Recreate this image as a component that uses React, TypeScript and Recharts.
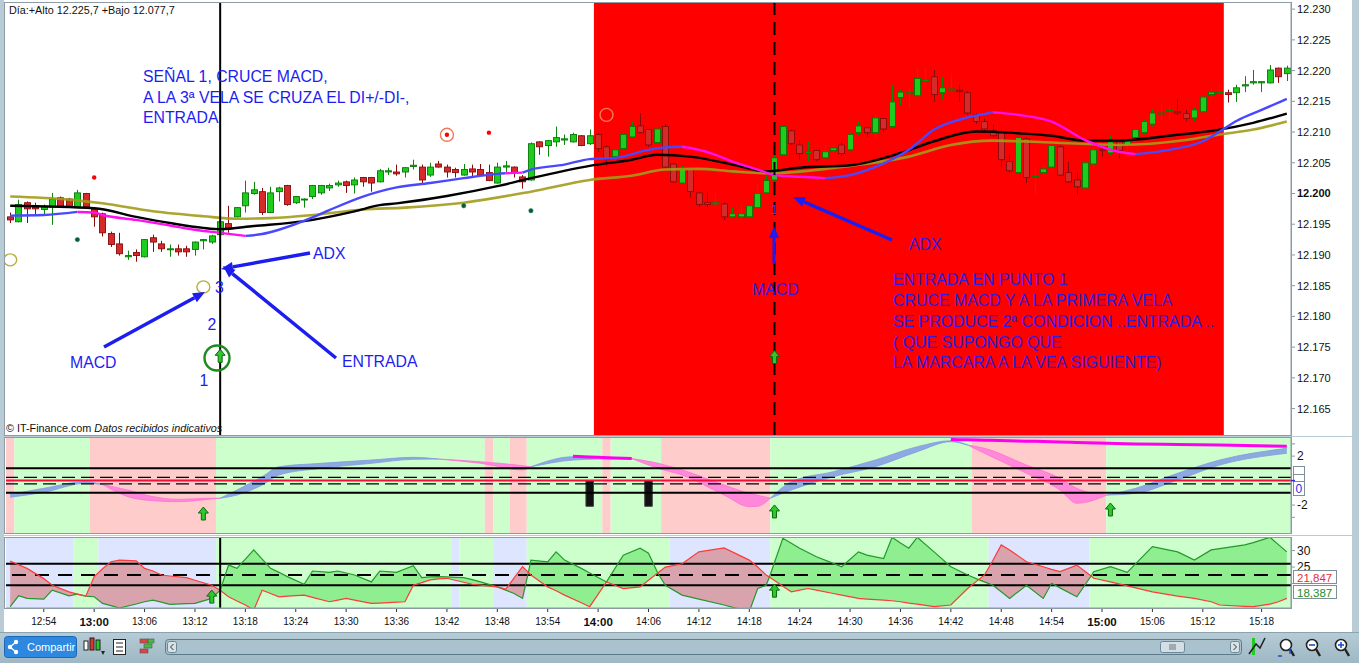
import React from 'react';
import {
  ComposedChart, Bar, Line, Area, XAxis, YAxis,
  ReferenceArea, ReferenceLine, ReferenceDot,
} from 'recharts';

const FONT = '"Liberation Sans", Arial, Helvetica, sans-serif';
const START = 12 * 60 + 50; // first candle 12:50
const hhmm = (i: number) => {
  const m = START + i;
  return `${Math.floor(m / 60)}:${String(m % 60).padStart(2, '0')}`;
};

// one-minute candles: [open, high, low, close]
const candles: [number, number, number, number][] = [
  [12196.2, 12196.9, 12195.2, 12195.7], [12195.4, 12199.0, 12195.3, 12198.2], [12198.5, 12198.7, 12195.2, 12197.5],
  [12197.8, 12198.5, 12196.5, 12197.5], [12197.4, 12198.2, 12196.5, 12197.8], [12197.8, 12200.1, 12194.9, 12199.1],
  [12199.3, 12199.5, 12197.7, 12197.8], [12199.1, 12199.3, 12197.7, 12197.8], [12197.8, 12200.6, 12197.7, 12200.1],
  [12200.0, 12200.1, 12197.7, 12197.8], [12197.5, 12197.8, 12194.6, 12196.2], [12196.7, 12196.9, 12193.0, 12193.6],
  [12193.5, 12193.8, 12191.3, 12191.7], [12191.8, 12193.6, 12189.9, 12190.2], [12189.7, 12190.7, 12189.2, 12189.9],
  [12190.4, 12190.9, 12188.9, 12189.9], [12189.7, 12192.6, 12189.6, 12192.5], [12192.8, 12193.3, 12190.5, 12192.1],
  [12191.8, 12192.3, 12190.5, 12191.0], [12190.9, 12191.7, 12189.7, 12191.0], [12191.0, 12191.7, 12189.9, 12190.5],
  [12191.0, 12191.5, 12189.7, 12190.5], [12190.9, 12192.2, 12189.9, 12192.1], [12192.3, 12192.6, 12190.9, 12192.5],
  [12192.1, 12193.3, 12191.8, 12193.1], [12193.3, 12195.7, 12193.0, 12195.4], [12195.1, 12198.0, 12193.6, 12194.4],
  [12196.2, 12197.8, 12196.1, 12197.7], [12198.0, 12202.1, 12196.9, 12200.1], [12200.0, 12201.9, 12199.8, 12200.6],
  [12200.3, 12200.9, 12196.5, 12196.9], [12196.9, 12201.1, 12196.8, 12200.1], [12200.3, 12201.1, 12198.7, 12200.9],
  [12201.3, 12201.4, 12198.0, 12198.2], [12198.5, 12199.6, 12198.3, 12199.5], [12199.0, 12199.2, 12197.7, 12199.1],
  [12199.5, 12201.4, 12199.1, 12201.3], [12200.1, 12201.4, 12199.8, 12201.3], [12200.9, 12201.6, 12200.4, 12201.3],
  [12201.4, 12202.1, 12201.1, 12201.7], [12201.9, 12202.1, 12200.1, 12201.3], [12201.4, 12202.6, 12200.0, 12202.2],
  [12202.6, 12202.7, 12201.1, 12201.9], [12202.6, 12202.7, 12200.3, 12201.7], [12201.9, 12204.0, 12201.8, 12203.7],
  [12203.5, 12204.2, 12203.0, 12203.7], [12203.5, 12204.7, 12202.9, 12203.2], [12203.5, 12204.3, 12202.6, 12204.2],
  [12204.4, 12205.5, 12203.9, 12204.6], [12204.3, 12204.7, 12201.7, 12202.2], [12203.0, 12205.0, 12202.7, 12204.3],
  [12204.8, 12205.3, 12204.2, 12204.3], [12204.3, 12204.7, 12202.6, 12203.5], [12203.9, 12204.2, 12202.6, 12203.4],
  [12203.0, 12204.8, 12202.9, 12203.9], [12204.0, 12204.7, 12202.7, 12203.5], [12203.9, 12204.8, 12202.9, 12203.0],
  [12203.4, 12204.7, 12202.0, 12202.1], [12201.7, 12205.0, 12201.6, 12204.3], [12204.3, 12205.3, 12203.5, 12204.5],
  [12204.3, 12204.4, 12202.6, 12203.4], [12202.7, 12203.0, 12200.8, 12201.9], [12202.2, 12208.3, 12202.1, 12208.1],
  [12208.4, 12208.5, 12206.3, 12207.6], [12207.8, 12208.7, 12206.0, 12208.6], [12208.4, 12210.9, 12207.6, 12209.1],
  [12208.7, 12209.6, 12207.9, 12208.9], [12208.4, 12209.9, 12208.3, 12209.6], [12209.4, 12209.5, 12207.7, 12207.8],
  [12208.1, 12210.4, 12207.9, 12209.4], [12209.6, 12209.9, 12206.8, 12207.3], [12207.6, 12207.9, 12204.5, 12205.5],
  [12206.0, 12207.4, 12205.2, 12207.1], [12207.3, 12209.9, 12207.1, 12209.6], [12209.2, 12211.7, 12209.1, 12210.9],
  [12211.0, 12213.1, 12209.8, 12209.9], [12210.4, 12210.5, 12207.6, 12207.9], [12208.3, 12210.7, 12208.1, 12210.5],
  [12210.9, 12211.3, 12204.2, 12204.3], [12204.8, 12205.0, 12201.7, 12201.9], [12201.7, 12204.5, 12201.6, 12203.9],
  [12203.9, 12204.0, 12199.3, 12200.3], [12200.1, 12200.3, 12197.8, 12198.2], [12198.5, 12200.3, 12197.8, 12198.2],
  [12198.3, 12200.1, 12197.8, 12198.5], [12198.3, 12198.5, 12195.7, 12196.2], [12196.2, 12197.7, 12196.1, 12196.7],
  [12196.2, 12198.0, 12195.7, 12196.7], [12196.2, 12198.2, 12196.1, 12198.0], [12197.7, 12201.4, 12197.6, 12200.0],
  [12200.1, 12202.9, 12200.0, 12202.1], [12202.2, 12206.5, 12202.1, 12205.8], [12206.3, 12211.0, 12206.1, 12210.9],
  [12210.2, 12210.4, 12207.9, 12208.1], [12207.9, 12208.7, 12205.5, 12206.5], [12206.6, 12208.4, 12205.3, 12206.8],
  [12207.0, 12207.1, 12205.3, 12205.5], [12205.8, 12207.9, 12205.7, 12206.8], [12207.0, 12207.9, 12206.6, 12207.4],
  [12207.9, 12208.4, 12206.1, 12206.5], [12207.1, 12209.9, 12207.0, 12209.6], [12209.9, 12211.7, 12209.4, 12211.0],
  [12210.7, 12210.9, 12209.2, 12209.9], [12209.9, 12212.8, 12208.9, 12212.3], [12212.2, 12212.3, 12209.9, 12210.5],
  [12210.9, 12217.7, 12210.7, 12214.9], [12215.6, 12216.9, 12214.4, 12216.5], [12216.3, 12217.2, 12213.8, 12216.4],
  [12215.9, 12220.4, 12215.7, 12218.7], [12218.3, 12220.4, 12217.4, 12218.5], [12219.0, 12220.1, 12214.9, 12216.1],
  [12216.4, 12219.0, 12215.2, 12217.2], [12216.9, 12219.5, 12216.5, 12217.0], [12216.8, 12217.7, 12214.9, 12216.6],
  [12216.4, 12216.7, 12212.8, 12213.1], [12212.8, 12213.1, 12211.3, 12211.7], [12211.7, 12212.2, 12210.2, 12210.5],
  [12210.2, 12211.2, 12209.1, 12209.4], [12210.0, 12210.4, 12204.3, 12205.5], [12205.2, 12206.3, 12203.4, 12203.7],
  [12203.4, 12209.2, 12203.2, 12209.1], [12208.9, 12209.1, 12201.7, 12202.6], [12202.8, 12204.3, 12199.8, 12202.9],
  [12203.4, 12204.5, 12203.0, 12204.0], [12204.3, 12207.9, 12203.9, 12207.8], [12207.6, 12207.8, 12202.9, 12203.0],
  [12203.4, 12205.2, 12201.7, 12201.9], [12202.2, 12203.4, 12199.8, 12201.1], [12200.9, 12205.2, 12200.8, 12205.0],
  [12204.8, 12207.4, 12204.3, 12207.1], [12207.2, 12208.3, 12206.0, 12207.0], [12206.6, 12209.4, 12206.1, 12208.4],
  [12208.4, 12208.7, 12205.7, 12207.0], [12207.8, 12209.1, 12206.8, 12208.7], [12209.1, 12210.7, 12208.7, 12210.4],
  [12209.9, 12212.0, 12209.6, 12211.7], [12211.3, 12213.8, 12210.9, 12213.1], [12213.0, 12214.4, 12212.0, 12213.1],
  [12213.5, 12214.4, 12212.2, 12213.6], [12213.3, 12215.4, 12212.8, 12213.1], [12213.0, 12213.6, 12211.7, 12212.2],
  [12212.3, 12214.1, 12211.7, 12213.6], [12213.3, 12216.1, 12213.1, 12215.7], [12216.1, 12217.2, 12215.2, 12216.5],
  [12216.4, 12217.7, 12216.1, 12216.6], [12216.4, 12216.9, 12214.8, 12216.1], [12216.4, 12217.7, 12214.9, 12217.2],
  [12217.5, 12219.1, 12216.5, 12217.7], [12218.0, 12220.1, 12217.7, 12218.2], [12218.0, 12218.3, 12216.5, 12218.2],
  [12218.0, 12220.9, 12217.9, 12220.1], [12220.4, 12220.5, 12218.0, 12219.0], [12219.5, 12220.8, 12218.3, 12220.4],
];

// fast average: rising stretches (blue) and falling stretches (magenta), [index, value]
const fastUp: [number, number][][] = [
  [[0, 12196.4], [4, 12196.5], [8, 12197.0]],
  [[28, 12193.1], [30, 12193.4], [32, 12194.1], [36, 12196.1], [38, 12197.3], [42, 12199.5], [46, 12201.0], [50, 12201.7], [54, 12202.5], [58, 12203.2], [59, 12203.3]],
  [[61, 12203.4], [62, 12203.9], [66, 12204.7], [69, 12205.6], [72, 12205.8], [76, 12207.1], [78, 12207.5], [80, 12207.6]],
  [[97, 12202.5], [100, 12203.0], [104, 12204.9], [107, 12207.1], [110, 12210.4], [113, 12212.0], [117, 12213.2]],
  [[134, 12206.4], [138, 12207.1], [142, 12208.5], [144, 12210.1], [146, 12211.8], [149, 12213.6], [152, 12215.4]],
];
const fastDown: [number, number][][] = [
  [[8, 12197.0], [10, 12196.9], [11, 12196.5], [15, 12195.7], [19, 12194.8], [22, 12194.1], [25, 12193.6], [28, 12193.1]],
  [[59, 12203.3], [61, 12203.4]],
  [[80, 12207.6], [81, 12207.4], [84, 12206.3], [86, 12205.2], [89, 12203.9], [91, 12203.0], [93, 12202.8], [97, 12202.5]],
  [[117, 12213.2], [120, 12212.8], [124, 12211.7], [128, 12208.7], [132, 12206.8], [134, 12206.4]],
];
const midAvg: [number, number][] = [
  [0, 12198.0], [10, 12197.6], [15, 12196.2], [19, 12195.2], [23, 12194.4], [25, 12194.2], [29, 12194.7], [35, 12195.5],
  [41, 12197.1], [44, 12198.1], [46, 12198.4], [52, 12199.6], [58, 12201.2], [62, 12202.5], [69, 12204.5], [74, 12205.5],
  [77, 12206.3], [81, 12206.0], [86, 12204.7], [90, 12203.6], [94, 12204.2], [100, 12204.6], [106, 12206.6], [110, 12208.5],
  [115, 12210.1], [120, 12209.8], [124, 12209.4], [128, 12208.6], [132, 12208.6], [138, 12209.4], [144, 12210.4], [148, 12211.5],
  [152, 12213.0],
];
const slowAvg: [number, number][] = [
  [0, 12199.5], [7, 12199.0], [11, 12198.4], [17, 12197.1], [23, 12196.3], [27, 12195.9], [31, 12196.0], [36, 12196.5],
  [42, 12197.4], [47, 12197.7], [54, 12198.5], [62, 12200.3], [69, 12202.2], [74, 12202.9], [78, 12203.9], [82, 12204.0],
  [86, 12203.6], [90, 12203.3], [100, 12204.5], [107, 12206.0], [112, 12207.9], [117, 12208.6], [124, 12208.3], [132, 12207.9],
  [140, 12208.7], [144, 12209.6], [148, 12210.4], [152, 12211.7],
];

const priceTicks = [12165, 12170, 12175, 12180, 12185, 12190, 12195, 12200, 12205, 12210, 12215, 12220, 12225, 12230];

const redDots: [number, number][] = [[10, 12202.6], [52, 12209.55], [57, 12209.9]];
const darkDots: [number, number][] = [[8, 12192.5], [54, 12198.0], [62, 12197.2]];
const oliveRings: [number, number][] = [[0, 12189.2], [23, 12184.8]];
const orangeRings: [number, number][] = [[52, 12209.55], [71, 12212.8]];
const buyMain: [number, number][] = [[25, 12173.5], [91, 12173.3]];

// MACD panel: [index, macd, signal]
const macdPts: [number, number, number][] = [
  [0, -1.12, -1.36], [4, -0.63, -0.96], [9, -0.09, -0.22], [11, -0.32, -0.32], [14, -1.31, -0.77], [17, -1.64, -1.31],
  [20, -1.72, -1.53], [24, -1.5, -1.44], [25, -1.44, -1.44], [27, -0.77, -1.18], [30, 0.32, -0.36], [32, 1.13, 0.46],
  [37, 1.41, 1.0], [43, 1.68, 1.41], [48, 1.9, 1.74], [51, 1.76, 1.76], [56, 1.41, 1.54], [61, 0.87, 1.22],
  [62, 1.13, 1.13], [67, 1.95, 1.68], [70, 1.87, 1.76], [74, 1.8, 1.8], [77, 1.03, 1.44], [80, 0.46, 0.87],
  [85, -1.18, -0.36], [88, -2.13, -1.04], [89, -2.1, -1.2], [90.5, -1.44, -1.44], [93, -0.09, -0.77], [98, 0.73, 0.32],
  [103, 1.68, 1.13], [108, 2.77, 2.36], [112, 3.26, 3.18], [114, 2.9, 2.9], [116, 2.23, 2.64], [121, 0.6, 1.27],
  [125, -0.77, 0.19], [127, -1.85, -0.63], [130.6, -1.18, -1.18], [134, -0.63, -1.04], [139, 0.6, 0.05], [144, 1.68, 1.27],
  [152, 2.64, 2.23],
];
const macdMagenta: [number, number][][] = [
  [[67, 1.98], [70, 1.9], [74, 1.8]],
  [[112, 3.36], [114, 3.33], [116, 3.3], [121, 3.22], [125, 3.16], [127, 3.12], [130.6, 3.05], [134, 3.0], [139, 2.95], [144, 2.9], [152, 2.8]],
];
// [first index, last index, 1 = rising / 0 = falling]
const macdState: [number, number, number][] = [
  [0, 0, 0], [1, 9, 1], [10, 24, 0], [25, 56, 1], [57, 57, 0], [58, 59, 1], [60, 61, 0],
  [62, 70, 1], [71, 71, 0], [72, 77, 1], [78, 90, 0], [91, 114, 1], [115, 130, 0], [131, 152, 1],
];
const macdBuy: [number, number][] = [[23, -2.73], [91, -2.56], [131, -2.4]];
const macdBlocks: number[] = [69, 76];

// DI panel: [index, DI+, DI-]
const diPts: [number, number, number][] = [
  [0, 13.0, 26.8], [1, 16.3, 25.7], [2, 15.5, 24.6], [4, 15.3, 21.5], [5, 18.0, 19.5], [7, 16.3, 17.5], [8, 16.8, 16.8],
  [9, 16.2, 16.2], [10, 16.0, 22.1], [11, 14.0, 24.5], [12, 13.3, 26.6], [13, 12.6, 27.1], [15, 13.8, 26.9], [16, 14.5, 24.6],
  [17, 15.0, 23.8], [18, 14.4, 22.6], [19, 13.7, 22.3], [21, 13.9, 21.8], [22, 14.0, 21.0], [24, 15.5, 19.5], [25, 18.0, 18.0],
  [26, 25.6, 16.0], [27, 24.6, 14.7], [28, 27.4, 13.5], [29, 30.2, 12.0], [30, 27.4, 18.0], [31, 24.6, 17.0], [32, 23.4, 16.0],
  [33, 22.1, 16.2], [35, 19.8, 16.5], [36, 23.8, 15.8], [38, 23.4, 14.5], [39, 23.8, 15.0], [40, 23.2, 15.5], [41, 22.6, 15.0],
  [43, 20.5, 14.0], [44, 23.8, 14.1], [46, 23.4, 14.4], [47, 24.4, 14.5], [48, 25.4, 19.5], [49, 21.8, 20.3], [50, 22.0, 21.1],
  [51, 22.1, 21.4], [52, 22.0, 21.6], [53, 21.9, 21.0], [54, 21.8, 20.4], [55, 21.2, 19.8], [56, 20.5, 19.5], [58, 19.0, 19.0],
  [59, 18.0, 18.3], [60, 17.0, 21.7], [61, 15.5, 25.1], [61.7, 23.4, 23.4], [62, 27.1, 22.6], [64, 26.6, 19.0], [65, 29.6, 17.8],
  [66, 27.1, 16.5], [68, 24.6, 14.2], [69, 23.2, 13.0], [71, 20.5, 20.5], [73, 28.6, 18.5], [75, 30.7, 19.0], [76, 29.2, 21.0],
  [77.1, 23.2, 23.2], [78, 19.5, 25.0], [80, 16.5, 26.0], [82, 15.3, 29.6], [85, 13.5, 30.8], [88, 11.5, 27.1], [89, 18.5, 25.0],
  [90, 19.5, 22.6], [90.4, 22.0, 22.0], [92, 33.7, 19.2], [93, 32.2, 17.5], [94, 30.7, 18.0], [95, 29.4, 18.5], [96, 28.1, 18.0],
  [98, 26.1, 17.0], [99, 25.1, 16.5], [101, 29.6, 15.5], [102, 28.6, 15.3], [104, 27.6, 15.0], [105, 34.0, 14.8], [106, 32.3, 14.5],
  [107, 30.7, 14.1], [108, 34.0, 13.8], [110, 29.6, 13.0], [112, 25.1, 13.5], [114, 22.6, 18.5], [115.3, 21.2, 21.2],
  [116, 20.5, 22.6], [117, 19.5, 27.0], [118, 17.5, 31.7], [119, 15.5, 30.2], [121, 19.5, 26.6], [123, 15.5, 25.1],
  [124, 20.1, 24.3], [125, 18.7, 23.6], [127, 16.0, 25.6], [128.7, 22.3, 22.3], [129, 23.6, 21.6], [131, 25.1, 20.5],
  [133, 23.4, 19.3], [136, 31.2, 17.5], [139, 29.6, 16.2], [141, 27.1, 15.5], [143, 30.2, 14.5], [144, 30.6, 13.5],
  [147, 31.7, 13.1], [148, 32.4, 13.0], [150, 34.0, 13.8], [151, 31.8, 14.5], [152, 29.6, 15.5],
];
// [first index, last index, 1 = trend / 0 = no trend]
const diState: [number, number, number][] = [
  [0, 7, 0], [8, 10, 1], [11, 24, 0], [25, 52, 1], [53, 53, 0], [54, 57, 1], [58, 61, 0],
  [62, 78, 1], [79, 90, 0], [91, 116, 1], [117, 128, 0], [129, 152, 1],
];
const diBuy: [number, number][] = [[24, 15.9], [91, 17.7]];

const timeTicks: [number, string][] = [
  [4, '12:54'], [10, '13:00'], [16, '13:06'], [22, '13:12'], [28, '13:18'], [34, '13:24'], [40, '13:30'], [46, '13:36'],
  [52, '13:42'], [58, '13:48'], [64, '13:54'], [70, '14:00'], [76, '14:06'], [82, '14:12'], [88, '14:18'], [94, '14:24'],
  [100, '14:30'], [106, '14:36'], [112, '14:42'], [118, '14:48'], [124, '14:54'], [130, '15:00'], [136, '15:06'],
  [142, '15:12'], [149, '15:18'],
];

const rows: any[] = candles.map(([o, h, l, c], i) => ({ t: hhmm(i), o, h, l, c, hl: [l, h] }));
const put = (key: string, pts: [number, number][]) => pts.forEach(([i, v]) => { rows[i][key] = v; });
fastUp.forEach((s, k) => put(`up${k}`, s));
fastDown.forEach((s, k) => put(`dn${k}`, s));
put('mid', midAvg);
put('slow', slowAvg);

const macdRows: any[] = macdPts.map(([i, m, s]) => ({ i, up: m >= s ? [s, m] : null, dn: m <= s ? [m, s] : null }));
macdMagenta.forEach((seg, k) => seg.forEach(([i, v]) => {
  const r = macdRows.find((row) => row.i === i);
  if (r) r[`mg${k}`] = v;
}));
const diRows = diPts.map(([i, p, m]) => ({ i, p, m, up: p >= m ? [m, p] : null, dn: p <= m ? [p, m] : null }));

const GRID = '#8c9ba4';
const INK = '#1d1df0';

const Candle = (props: any) => {
  const { x, y, width, height, payload } = props;
  if (!payload || payload.h === payload.l) return null;
  const { o, h, l, c } = payload;
  const k = height / (h - l);
  const yo = y + (h - o) * k;
  const yc = y + (h - c) * k;
  const up = c >= o;
  const cx = Math.round(x + width / 2) + 0.5;
  const top = Math.min(yo, yc);
  return (
    <g>
      <line x1={cx} x2={cx} y1={y} y2={y + height} stroke={up ? '#0a880a' : '#8a0a0a'} strokeWidth={1} />
      <rect x={cx - 3} y={top} width={6} height={Math.max(Math.abs(yo - yc), 1)}
        fill={up ? '#1dcc1d' : '#d52a2a'} stroke={up ? '#067806' : '#8b0a0a'} strokeWidth={0.9} />
    </g>
  );
};

const UpArrow = ({ cx, cy }: any) => (
  <path d={`M${cx},${cy - 7} L${cx + 5},${cy - 1} L${cx + 2},${cy - 1} L${cx + 2},${cy + 6} L${cx - 2},${cy + 6} L${cx - 2},${cy - 1} L${cx - 5},${cy - 1} Z`}
    fill="#2ec82e" stroke="#0b6a0b" strokeWidth={1} />
);

const PriceTick = ({ x, y, payload }: any) => (
  <text x={x} y={y} dy={4} fontSize={11} fontFamily={FONT} fill="#111"
    fontWeight={payload.value === 12200 ? 'bold' : 'normal'}>
    {(payload.value / 1000).toFixed(3)}
  </text>
);

const SideTick = (show: number[]) => ({ x, y, payload }: any) =>
  show.includes(payload.value)
    ? <text x={x} y={y} dy={4} fontSize={12} fontFamily={FONT} fill="#111">{payload.value}</text>
    : <g />;

const TimeTick = ({ x, y, payload }: any) => {
  const lab = (timeTicks.find((t) => t[0] === payload.value) || [0, ''])[1];
  const bold = lab.endsWith(':00');
  return (
    <text x={x} y={y} dy={bold ? 12 : 11} textAnchor="middle" fontFamily={FONT}
      fontSize={bold ? 11.5 : 10} fontWeight={bold ? 'bold' : 'normal'} fill="#111">{lab}</text>
  );
};

const Arrow = ({ x1, y1, x2, y2, w = 3.5, head = 12 }: any) => {
  const a = Math.atan2(y2 - y1, x2 - x1);
  const bx = x2 - head * Math.cos(a);
  const by = y2 - head * Math.sin(a);
  const px = Math.sin(a) * head * 0.42;
  const py = -Math.cos(a) * head * 0.42;
  return (
    <g>
      <line x1={x1} y1={y1} x2={bx} y2={by} stroke={INK} strokeWidth={w} />
      <polygon points={`${x2},${y2} ${bx + px},${by + py} ${bx - px},${by - py}`} fill={INK} />
    </g>
  );
};

const Mag = ({ x, sign }: any) => (
  <g>
    <circle cx={x + 7} cy={13} r={5.5} fill="#fff" stroke="#222" strokeWidth={1.6} />
    <line x1={x + 11} y1={17} x2={x + 15} y2={24} stroke="#222" strokeWidth={2.4} />
    {sign && <line x1={x + 4} y1={13} x2={x + 10} y2={13} stroke="#1a4fd0" strokeWidth={1.6} />}
    {sign === '+' && <line x1={x + 7} y1={10} x2={x + 7} y2={16} stroke="#1a4fd0" strokeWidth={1.6} />}
  </g>
);

export default function App() {
  return (
    <div style={{ position: 'absolute', left: 0, top: 0, width: 1359, height: 663, background: '#b9cbd4', overflow: 'hidden', fontFamily: FONT }}>
      {/* price panel */}
      <div style={{ position: 'absolute', left: 4, top: 0, width: 1348, height: 436, background: '#fff' }}>
        <ComposedChart width={1348} height={436} data={rows} margin={{ top: 3, right: 0, bottom: 1, left: 2 }}>
          <XAxis dataKey="t" hide />
          <YAxis orientation="right" width={61} domain={[12160.7, 12231]} ticks={priceTicks} allowDataOverflow
            interval={0} tickSize={4} tick={<PriceTick />} axisLine={{ stroke: GRID }} tickLine={{ stroke: GRID }} />
          <ReferenceArea x1="14:00" x2="15:14" fill="#ff0000" fillOpacity={1} stroke="none" />
          <Line dataKey="slow" type="monotone" stroke="#a39b1a" strokeWidth={2.6} strokeOpacity={0.9} dot={false} connectNulls isAnimationActive={false} />
          <Line dataKey="mid" type="monotone" stroke="#000" strokeWidth={2.4} dot={false} connectNulls isAnimationActive={false} />
          {fastUp.map((_, k) => (
            <Line key={`u${k}`} dataKey={`up${k}`} type="monotone" stroke="#4848ff" strokeWidth={2.4} dot={false} connectNulls isAnimationActive={false} />
          ))}
          {fastDown.map((_, k) => (
            <Line key={`d${k}`} dataKey={`dn${k}`} type="monotone" stroke="#ff10f0" strokeWidth={2.4} dot={false} connectNulls isAnimationActive={false} />
          ))}
          <Bar dataKey="hl" barSize={6} shape={(p: any) => <Candle {...p} />} isAnimationActive={false} />
          <ReferenceLine x={hhmm(25)} stroke="#000" strokeWidth={2} />
          <ReferenceLine x={hhmm(91)} stroke="#000" strokeWidth={2} strokeDasharray="13 7" />
          {redDots.map(([i, v]) => (
            <ReferenceDot key={`r${i}`} x={hhmm(i)} y={v} shape={({ cx, cy }: any) => <circle cx={cx} cy={cy} r={2.2} fill="#ff0000" />} />
          ))}
          {darkDots.map(([i, v]) => (
            <ReferenceDot key={`g${i}`} x={hhmm(i)} y={v} shape={({ cx, cy }: any) => <circle cx={cx} cy={cy} r={2.2} fill="#0b5a2e" stroke="#2a8a6a" strokeWidth={0.6} />} />
          ))}
          {oliveRings.map(([i, v]) => (
            <ReferenceDot key={`o${i}`} x={hhmm(i)} y={v} shape={({ cx, cy }: any) => <ellipse cx={cx} cy={cy} rx={6.5} ry={6} fill="none" stroke="#b9ad3a" strokeWidth={1.4} />} />
          ))}
          {orangeRings.map(([i, v]) => (
            <ReferenceDot key={`c${i}`} x={hhmm(i)} y={v} shape={({ cx, cy }: any) => <circle cx={cx} cy={cy} r={6.5} fill="none" stroke="#f27a5a" strokeWidth={1.4} />} />
          ))}
          {buyMain.map(([i, v]) => (
            <ReferenceDot key={`b${i}`} x={hhmm(i)} y={v} shape={(p: any) => <UpArrow {...p} />} />
          ))}
        </ComposedChart>
      </div>

      {/* MACD panel */}
      <div style={{ position: 'absolute', left: 4, top: 437, width: 1348, height: 98, background: '#fff' }}>
        <ComposedChart width={1348} height={98} data={macdRows} margin={{ top: 1, right: 0, bottom: 2, left: 2 }}>
          <XAxis type="number" dataKey="i" domain={[-0.5, 152.5]} hide allowDataOverflow />
          <YAxis orientation="right" width={61} domain={[-4.28, 3.48]} ticks={[3, 2, -2, -3]} allowDataOverflow interval={0}
            tickSize={4} tick={SideTick([2, -2])} axisLine={{ stroke: GRID }} tickLine={{ stroke: GRID }} />
          {macdState.map(([a, b, s]) => (
            <ReferenceArea key={`m${a}`} x1={a - 0.5} x2={b + 0.5} fill={s ? '#ccffcc' : '#ffcccc'} fillOpacity={1} stroke="none" />
          ))}
          <ReferenceLine y={1} stroke="#000" strokeWidth={2} />
          <ReferenceLine y={-1} stroke="#000" strokeWidth={2} />
          <ReferenceLine y={0.27} stroke="#000" strokeWidth={1.3} strokeDasharray="13 6" />
          <ReferenceLine y={-0.27} stroke="#000" strokeWidth={1.3} strokeDasharray="13 6" />
          <ReferenceLine y={0} stroke="#f0103a" strokeWidth={2} />
          {macdBlocks.map((i) => (
            <ReferenceArea key={`k${i}`} x1={i - 0.45} x2={i + 0.45} y1={-2.1} y2={0} fill="#111" fillOpacity={1} stroke="#444" />
          ))}
          <Area dataKey="up" type="monotone" fill="#8ea8e2" fillOpacity={1} stroke="#7f9be0" strokeWidth={0.8} isAnimationActive={false} />
          <Area dataKey="dn" type="monotone" fill="#ff88da" fillOpacity={1} stroke="#ff70d0" strokeWidth={0.8} isAnimationActive={false} />
          {macdMagenta.map((_, k) => (
            <Line key={`mg${k}`} dataKey={`mg${k}`} type="monotone" stroke="#ff00ee" strokeWidth={3} dot={false} connectNulls isAnimationActive={false} />
          ))}
          {macdBuy.map(([i, v]) => (
            <ReferenceDot key={`a${i}`} x={i} y={v} shape={(p: any) => <UpArrow {...p} />} />
          ))}
        </ComposedChart>
      </div>

      {/* DI panel with time axis */}
      <div style={{ position: 'absolute', left: 4, top: 536, width: 1348, height: 96, background: '#fff' }}>
        <ComposedChart width={1348} height={96} data={diRows} margin={{ top: 2, right: 0, bottom: 0, left: 2 }}>
          <XAxis type="number" dataKey="i" domain={[-0.5, 152.5]} allowDataOverflow ticks={timeTicks.map((t) => t[0])}
            interval={0} height={24} tickSize={4} tick={<TimeTick />} axisLine={{ stroke: GRID }} tickLine={{ stroke: '#333' }} />
          <YAxis orientation="right" width={61} domain={[12.6, 33.8]} ticks={[30, 25, 20]} allowDataOverflow interval={0}
            tickSize={4} tick={SideTick([30, 25])} axisLine={{ stroke: GRID }} tickLine={{ stroke: GRID }} />
          {diState.map(([a, b, s]) => (
            <ReferenceArea key={`d${a}`} x1={a - 0.5} x2={b + 0.5} fill={s ? '#ccffcc' : '#dde5ff'} fillOpacity={1} stroke="none" />
          ))}
          <Area dataKey="up" type="linear" fill="#8fee8f" fillOpacity={1} stroke="none" isAnimationActive={false} />
          <Area dataKey="dn" type="linear" fill="#d9a3ad" fillOpacity={1} stroke="none" isAnimationActive={false} />
          <ReferenceLine y={26} stroke="#000" strokeWidth={2} />
          <ReferenceLine y={22.6} stroke="#000" strokeWidth={2} strokeDasharray="14 9" />
          <ReferenceLine y={19.5} stroke="#000" strokeWidth={2} />
          <Line dataKey="p" type="linear" stroke="#23992a" strokeWidth={1.2} dot={false} isAnimationActive={false} />
          <Line dataKey="m" type="linear" stroke="#ff3a3a" strokeWidth={1.2} dot={false} isAnimationActive={false} />
          <ReferenceLine x={25} stroke="#000" strokeWidth={2} />
          {diBuy.map(([i, v]) => (
            <ReferenceDot key={`a${i}`} x={i} y={v} shape={(p: any) => <UpArrow {...p} />} />
          ))}
        </ComposedChart>
      </div>

      {/* frames, labels and hand-drawn notes */}
      <svg width={1359} height={632} style={{ position: 'absolute', left: 0, top: 0, pointerEvents: 'none' }} fontFamily={FONT}>
        <rect x={4.5} y={2.5} width={1287} height={433} fill="none" stroke={GRID} />
        <rect x={4.5} y={437.5} width={1287} height={96} fill="none" stroke={GRID} />
        <rect x={4.5} y={537.5} width={1287} height={71} fill="none" stroke={GRID} />

        <text x={9} y={14} fontSize={10.8} fill="#111">Día:+Alto 12.225,7 +Bajo 12.077,7</text>
        <text x={6} y={432} fontSize={10.8} fill="#111">
          <tspan>© IT-Finance.com </tspan><tspan fontStyle="italic">Datos recibidos indicativos</tspan>
        </text>

        <g fontSize={15.8} fill={INK}>
          <text x={143} y={82}>SEÑAL 1, CRUCE MACD,</text>
          <text x={143} y={103}>A LA 3ª VELA SE CRUZA EL DI+/-DI-,</text>
          <text x={143} y={123}>ENTRADA</text>
          <text x={313} y={258.5}>ADX</text>
          <text x={342} y={367}>ENTRADA</text>
          <text x={70} y={368}>MACD</text>
          <text x={215} y={293}>3</text>
          <text x={207.5} y={330}>2</text>
          <text x={199.5} y={386}>1</text>
        </g>
        <Arrow x1={310} y1={253} x2={221} y2={269} />
        <Arrow x1={336} y1={358} x2={223} y2={266} />
        <Arrow x1={104} y1={347} x2={205} y2={292} />
        <circle cx={217} cy={358} r={12.5} fill="none" stroke="#1d8a1d" strokeWidth={2.4} />

        <g fontSize={15.9} fill="#2a1fe0">
          <text x={771} y={214} fontSize={13} fill="#6a3acc">1</text>
          <text x={752} y={295}>MACD</text>
          <text x={909} y={249.5}>ADX</text>
          <text x={893} y={285}>ENTRADA EN PUNTO 1</text>
          <text x={893} y={306}>CRUCE MACD Y A LA PRIMERA VELA</text>
          <text x={893} y={327}>SE PRODUCE 2ª CONDICION ..ENTRADA ..</text>
          <text x={893} y={347.5}>( QUE SUPONGO QUE</text>
          <text x={893} y={368}>LA MARCARA A LA VEA SIGUIENTE)</text>
        </g>
        <Arrow x1={774} y1={264} x2={774} y2={226} w={3} />
        <Arrow x1={892} y1={240} x2={793} y2={197} />

        <rect x={1293.5} y={466.5} width={11} height={8} fill="#fff" stroke="#7f8f99" />
        <rect x={1293.5} y={474.5} width={11} height={7} fill="#fff" stroke="#7f8f99" />
        <rect x={1293.5} y={481.5} width={11} height={14} fill="#fff" stroke="#7f8f99" />
        <text x={1295.5} y={493} fontSize={12} fill="#2430e0">0</text>
        <line x1={1291} x2={1295} y1={480.6} y2={480.6} stroke="#2430e0" strokeWidth={1.5} />

        <rect x={1293.5} y={570.5} width={43} height={13} fill="#fff" stroke="#7f8f99" />
        <text x={1297} y={581.5} fontSize={11.5} fill="#e63232">21,847</text>
        <rect x={1293.5} y={585.5} width={43} height={13} fill="#fff" stroke="#7f8f99" />
        <text x={1297} y={596.5} fontSize={11.5} fill="#1e8e26">18,387</text>
      </svg>

      {/* bottom toolbar */}
      <svg width={1359} height={31} style={{ position: 'absolute', left: 0, top: 632 }} fontFamily={FONT}>
        <defs>
          <linearGradient id="tb" x1="0" y1="0" x2="0" y2="1">
            <stop offset="0" stopColor="#b6ccd6" />
            <stop offset="1" stopColor="#9fb8c4" />
          </linearGradient>
        </defs>
        <rect width={1359} height={31} fill="url(#tb)" />
        <line x1={0} x2={1359} y1={0.5} y2={0.5} stroke="#8aa3ae" />
        <rect x={4.5} y={4.5} width={72} height={21} rx={3} fill="#2e88df" stroke="#1c66b6" />
        <g stroke="#fff" strokeWidth={1.3}>
          <line x1={10} y1={15} x2={16} y2={10} />
          <line x1={10} y1={15} x2={16} y2={20} />
        </g>
        <circle cx={10} cy={15} r={2.2} fill="#fff" />
        <circle cx={16} cy={10} r={2.2} fill="#fff" />
        <circle cx={16} cy={20} r={2.2} fill="#fff" />
        <text x={27} y={19} fontSize={11} fill="#fff">Compartir</text>

        <rect x={84} y={9} width={4} height={9} fill="#fff" stroke="#222" />
        <rect x={90} y={6} width={4} height={12} fill="#d33" stroke="#222" />
        <rect x={96} y={8} width={4} height={10} fill="#2c2" stroke="#222" />
        <path d="M101,19 l4,0 l-2,4 z" fill="#222" />
        <rect x={113.5} y={7.5} width={12} height={15} fill="#fff" stroke="#222" />
        <line x1={116} x2={123} y1={11} y2={11} stroke="#222" />
        <line x1={116} x2={123} y1={15} y2={15} stroke="#222" />
        <line x1={116} x2={123} y1={19} y2={19} stroke="#222" />
        <rect x={140} y={7} width={8} height={4} fill="#d44" stroke="#555" strokeWidth={0.6} />
        <rect x={144} y={12} width={8} height={4} fill="#4b4" stroke="#555" strokeWidth={0.6} />
        <rect x={140} y={17} width={8} height={4} fill="#d44" stroke="#555" strokeWidth={0.6} />
        <rect x={148} y={7} width={6} height={4} fill="#4b4" stroke="#555" strokeWidth={0.6} />

        <rect x={165.5} y={7.5} width={1076} height={15} rx={3} fill="#aac2cd" stroke="#5b7a8a" />
        <rect x={167.5} y={9.5} width={9} height={11} rx={2} fill="#d7e2e7" stroke="#6a8896" />
        <path d="M173.5,12 l-3,3 l3,3" fill="none" stroke="#333" />
        <rect x={1230.5} y={9.5} width={9} height={11} rx={2} fill="#d7e2e7" stroke="#6a8896" />
        <path d="M1233.5,12 l3,3 l-3,3" fill="none" stroke="#333" />
        <rect x={1160.5} y={9.5} width={24} height={11} rx={2} fill="#d3dfe4" stroke="#6a8896" />
        <g stroke="#556" strokeWidth={0.8}>
          <line x1={1169} x2={1176} y1={13} y2={13} />
          <line x1={1169} x2={1176} y1={15} y2={15} />
          <line x1={1169} x2={1176} y1={17} y2={17} />
        </g>

        <rect x={1252} y={6} width={3} height={17} fill="#2c2" />
        <path d="M1249,22 L1256,12 L1260,16 L1265,6" fill="none" stroke="#222" strokeWidth={1.6} />
        <Mag x={1279} />
        <path d="M1278,24 l4,0 M1290,22 l0,-6" stroke="#1a4fd0" strokeWidth={1.4} />
        <Mag x={1305} sign="-" />
        <Mag x={1334} sign="+" />
      </svg>
    </div>
  );
}
